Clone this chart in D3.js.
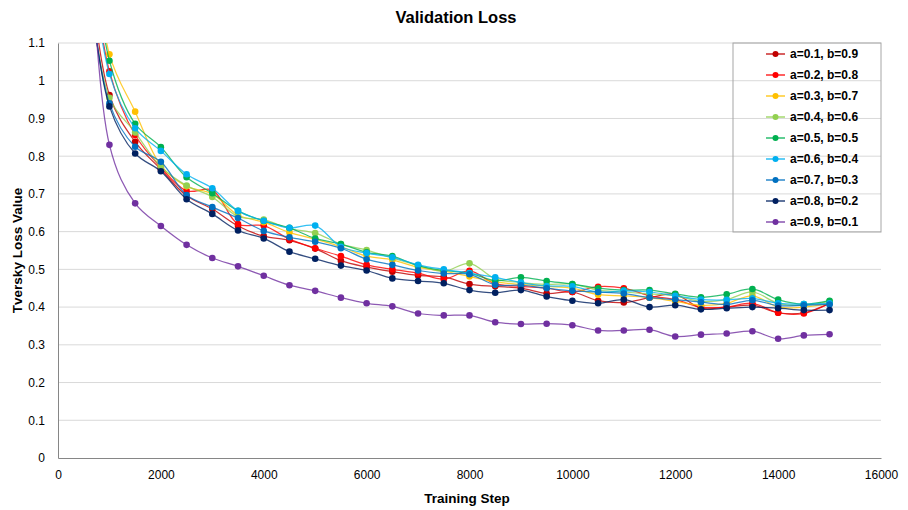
<!DOCTYPE html>
<html>
<head>
<meta charset="utf-8">
<script src="https://cdn.jsdelivr.net/npm/d3@7"></script>
<style>
  body { margin: 0; background: #fff; }
  svg { font-family: "Liberation Sans", Arial, sans-serif; }
</style>
</head>
<body>
<div id="chart"></div>
<script>
// training steps (first point is above the axis max and gets clipped)
var steps = [500, 1000, 1500, 2000, 2500, 3000, 3500, 4000, 4500, 5000, 5500, 6000, 6500, 7000, 7500,
    8000, 8500, 9000, 9500, 10000, 10500, 11000, 11500, 12000, 12500, 13000, 13500, 14000, 14500, 15000];

var seriesNames = ["a=0.1, b=0.9", "a=0.2, b=0.8", "a=0.3, b=0.7", "a=0.4, b=0.6", "a=0.5, b=0.5",
    "a=0.6, b=0.4", "a=0.7, b=0.3", "a=0.8, b=0.2", "a=0.9, b=0.1"];
var seriesColors = ["#C00000", "#FF0000", "#FFC000", "#92D050", "#00B050", "#00B0F0", "#0070C0", "#002060", "#7030A0"];

var loss01 = [1.45, 0.962, 0.838, 0.765, 0.695, 0.66, 0.615, 0.588, 0.577, 0.555, 0.523, 0.506, 0.494, 0.484, 0.48,
    0.461, 0.455, 0.45, 0.436, 0.44, 0.417, 0.412, 0.425, 0.434, 0.397, 0.4, 0.405, 0.385, 0.385, 0.41];
var loss02 = [1.5, 1.025, 0.856, 0.77, 0.708, 0.71, 0.62, 0.616, 0.58, 0.556, 0.535, 0.512, 0.5, 0.49, 0.474,
    0.496, 0.462, 0.455, 0.45, 0.44, 0.454, 0.45, 0.43, 0.42, 0.4, 0.4, 0.41, 0.385, 0.383, 0.41];
var loss03 = [1.6, 1.07, 0.918, 0.775, 0.72, 0.70, 0.644, 0.625, 0.598, 0.58, 0.56, 0.535, 0.525, 0.505, 0.495,
    0.481, 0.467, 0.46, 0.455, 0.45, 0.433, 0.43, 0.425, 0.415, 0.405, 0.41, 0.43, 0.40, 0.40, 0.41];
var loss04 = [1.4, 0.955, 0.863, 0.772, 0.722, 0.692, 0.64, 0.632, 0.608, 0.596, 0.567, 0.551, 0.53, 0.51, 0.495,
    0.516, 0.475, 0.465, 0.46, 0.461, 0.445, 0.44, 0.435, 0.43, 0.415, 0.42, 0.44, 0.41, 0.405, 0.415];
var loss05 = [1.55, 1.053, 0.886, 0.824, 0.744, 0.702, 0.655, 0.628, 0.61, 0.582, 0.567, 0.545, 0.535, 0.51, 0.497,
    0.49, 0.47, 0.479, 0.469, 0.461, 0.45, 0.445, 0.445, 0.435, 0.426, 0.434, 0.448, 0.42, 0.408, 0.417];
var loss06 = [1.5, 1.018, 0.874, 0.814, 0.752, 0.715, 0.655, 0.629, 0.61, 0.616, 0.56, 0.543, 0.532, 0.512, 0.5,
    0.49, 0.479, 0.465, 0.456, 0.455, 0.44, 0.443, 0.44, 0.43, 0.42, 0.419, 0.423, 0.41, 0.408, 0.41];
var loss07 = [1.4, 0.94, 0.825, 0.785, 0.697, 0.665, 0.636, 0.602, 0.585, 0.573, 0.556, 0.527, 0.512, 0.497, 0.489,
    0.487, 0.459, 0.458, 0.45, 0.443, 0.44, 0.436, 0.425, 0.42, 0.413, 0.407, 0.418, 0.404, 0.405, 0.407];
var loss08 = [1.4, 0.932, 0.807, 0.76, 0.686, 0.647, 0.603, 0.582, 0.547, 0.528, 0.51, 0.497, 0.476, 0.469, 0.463,
    0.445, 0.438, 0.445, 0.428, 0.417, 0.41, 0.42, 0.4, 0.405, 0.394, 0.397, 0.4, 0.397, 0.392, 0.392];
var loss09 = [1.8, 0.83, 0.675, 0.615, 0.565, 0.53, 0.508, 0.483, 0.458, 0.443, 0.425, 0.41, 0.402, 0.383, 0.378,
    0.378, 0.36, 0.355, 0.356, 0.352, 0.338, 0.338, 0.34, 0.322, 0.327, 0.33, 0.336, 0.316, 0.325, 0.328];

var allLoss = [loss01, loss02, loss03, loss04, loss05, loss06, loss07, loss08, loss09];

var xTicks = [0, 2000, 4000, 6000, 8000, 10000, 12000, 14000, 16000];
var yTicks = [0, 0.1, 0.2, 0.3, 0.4, 0.5, 0.6, 0.7, 0.8, 0.9, 1, 1.1];

var width = 908, height = 510;
var margin = {top: 43, right: 27, bottom: 52, left: 58};
var plotW = width - margin.left - margin.right,
    plotH = height - margin.top - margin.bottom;

var svg = d3.select("#chart").append("svg")
    .attr("width", width)
    .attr("height", height);

var g = svg.append("g")
    .attr("transform", "translate(" + margin.left + "," + margin.top + ")");

var x = d3.scaleLinear().domain([0, 16000]).range([0, plotW]);
var y = d3.scaleLinear().domain([0, 1.1]).range([plotH, 0]);

// gridlines
g.selectAll(".grid")
    .data(yTicks.slice(1))
    .enter().append("line")
    .attr("class", "grid")
    .attr("x1", 0).attr("x2", plotW)
    .attr("y1", function(d) { return y(d); })
    .attr("y2", function(d) { return y(d); })
    .attr("stroke", "#d9d9d9")
    .attr("stroke-width", 1);

// axes
var yAxis = g.append("g")
    .call(d3.axisLeft(y).tickValues(yTicks).tickSize(0).tickPadding(13).tickFormat(d3.format("")));
var xAxis = g.append("g")
    .attr("transform", "translate(0," + plotH + ")")
    .call(d3.axisBottom(x).tickValues(xTicks).tickSize(0).tickPadding(12).tickFormat(d3.format("")));

[yAxis, xAxis].forEach(function(ax) {
    ax.select(".domain").attr("stroke", "#868686");
    ax.selectAll("text").attr("fill", "#000").attr("font-size", "12px")
        .attr("font-family", "\"Liberation Sans\", Arial, sans-serif");
});

// clip to plot area
svg.append("defs").append("clipPath")
    .attr("id", "plot-clip")
    .append("rect")
    .attr("x", 0).attr("y", 0)
    .attr("width", plotW).attr("height", plotH);

// centripetal catmull-rom keeps the steep first segment from kinking the rest
var line = d3.line()
    .x(function(d) { return x(d.step); })
    .y(function(d) { return y(d.value); })
    .curve(d3.curveCatmullRom.alpha(0.5));

var plot = g.append("g").attr("clip-path", "url(#plot-clip)");

allLoss.forEach(function(vals, i) {
    var pts = steps.map(function(s, j) { return {step: s, value: vals[j]}; });
    var sg = plot.append("g");
    sg.append("path")
        .datum(pts)
        .attr("d", line)
        .attr("fill", "none")
        .attr("stroke", seriesColors[i])
        .attr("stroke-opacity", 0.8)
        .attr("stroke-width", 1.25);
    sg.selectAll("circle")
        .data(pts)
        .enter().append("circle")
        .attr("cx", function(d) { return x(d.step); })
        .attr("cy", function(d) { return y(d.value); })
        .attr("r", 3.3)
        .attr("fill", seriesColors[i]);
});

// title + axis titles
svg.append("text")
    .attr("x", 456).attr("y", 23)
    .attr("text-anchor", "middle")
    .attr("font-size", "16.5px").attr("font-weight", "bold")
    .text("Validation Loss");

svg.append("text")
    .attr("x", 467).attr("y", 503)
    .attr("text-anchor", "middle")
    .attr("font-size", "13.5px").attr("font-weight", "bold")
    .text("Training Step");

svg.append("text")
    .attr("transform", "translate(22," + (margin.top + plotH / 2) + ") rotate(-90)")
    .attr("text-anchor", "middle")
    .attr("font-size", "13.5px").attr("font-weight", "bold")
    .text("Tversky Loss Value");

// legend
var legend = svg.append("g").attr("transform", "translate(733,43)");
legend.append("rect")
    .attr("width", 148).attr("height", 189)
    .attr("fill", "none")
    .attr("stroke", "#a6a6a6");

var item = legend.selectAll(".item")
    .data(seriesNames)
    .enter().append("g")
    .attr("class", "item")
    .attr("transform", function(d, i) { return "translate(0," + (11 + i * 21) + ")"; });

item.append("line")
    .attr("x1", 33).attr("x2", 52)
    .attr("stroke", function(d, i) { return seriesColors[i]; })
    .attr("stroke-width", 1.25);
item.append("circle")
    .attr("cx", 42.5).attr("r", 3)
    .attr("fill", function(d, i) { return seriesColors[i]; });
item.append("text")
    .attr("x", 57).attr("dy", "0.35em")
    .attr("font-size", "12px").attr("font-weight", "bold")
    .text(function(d) { return d; });
</script>
</body>
</html>
